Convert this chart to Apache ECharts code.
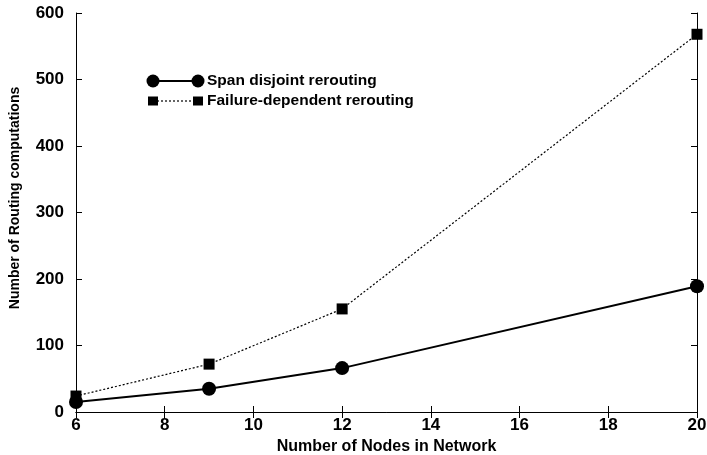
<!DOCTYPE html>
<html><head><meta charset="utf-8">
<script src="https://cdn.jsdelivr.net/npm/echarts@6/dist/echarts.min.js"></script>
<style>html,body{margin:0;padding:0;background:#fff}#c{width:707px;height:455px}</style>
</head><body><div id="c"></div>
<script>
const nodes = [6, 9, 12, 20];
const spanDisjoint = [15, 35, 66, 189];
const failureDependent = [24, 72, 155, 568];
const seriesNames = ['Span disjoint rerouting', 'Failure-dependent rerouting'];
const xTitle = 'Number of Nodes in Network';
const yTitle = 'Number of Routing computations';

const FONT = '"Liberation Sans", Arial, sans-serif';
const chart = echarts.init(document.getElementById('c'));
const axisCommon = {
  axisLine: {show: true, lineStyle: {color: '#000', width: 1}},
  axisTick: {show: true, inside: true, length: 6, lineStyle: {color: '#000'}},
  splitLine: {show: false}
};
chart.setOption({
  animation: false,
  backgroundColor: '#fff',
  grid: {left: 76, right: 10, top: 13, bottom: 43, containLabel: false, outerBoundsMode: 'none'},
  xAxis: [
    Object.assign({type: 'value', min: 6, max: 20, interval: 2, position: 'bottom',
      name: xTitle, nameLocation: 'middle', nameGap: 27,
      nameTextStyle: {fontFamily: FONT, fontWeight: 'bold', fontSize: 16, color: '#000'},
      axisLabel: {fontFamily: FONT, fontWeight: 'bold', fontSize: 17, color: '#000', margin: 5}}, axisCommon),
    Object.assign({type: 'value', min: 6, max: 20, interval: 2, position: 'top',
      axisLabel: {show: false}}, axisCommon)
  ],
  yAxis: [
    Object.assign({type: 'value', min: 0, max: 600, interval: 100, position: 'left',
      axisLabel: {fontFamily: FONT, fontWeight: 'bold', fontSize: 17, color: '#000', margin: 12}}, axisCommon),
    Object.assign({type: 'value', min: 0, max: 600, interval: 100, position: 'right',
      axisLabel: {show: false}}, axisCommon)
  ],
  series: [
    {name: seriesNames[0], type: 'line', data: nodes.map((x, i) => [x, spanDisjoint[i]]),
      symbol: 'circle', symbolSize: 14, lineStyle: {color: '#000', width: 2},
      itemStyle: {color: '#000'}, z: 3},
    {name: seriesNames[1], type: 'line', data: nodes.map((x, i) => [x, failureDependent[i]]),
      symbol: 'rect', symbolSize: 11, lineStyle: {color: '#000', width: 1.2, type: [2, 2]},
      itemStyle: {color: '#000'}, z: 2}
  ],
  graphic: [
    {type: 'text', x: 15, y: 198, rotation: Math.PI / 2,
      style: {text: yTitle, font: 'bold 14px ' + FONT, fill: '#000', textAlign: 'center', textVerticalAlign: 'middle'}},
    {type: 'line', shape: {x1: 153, y1: 81, x2: 198, y2: 81}, style: {stroke: '#000', lineWidth: 2}},
    {type: 'circle', shape: {cx: 153, cy: 81, r: 6.5}, style: {fill: '#000'}},
    {type: 'circle', shape: {cx: 198, cy: 81, r: 6.5}, style: {fill: '#000'}},
    {type: 'text', x: 207, y: 81, style: {text: seriesNames[0], font: 'bold 15.5px ' + FONT, fill: '#000', textVerticalAlign: 'middle'}},
    {type: 'line', shape: {x1: 153, y1: 101, x2: 198, y2: 101}, style: {stroke: '#000', lineWidth: 1.2, lineDash: [2, 2]}},
    {type: 'rect', shape: {x: 148, y: 96.5, width: 10, height: 9}, style: {fill: '#000'}},
    {type: 'rect', shape: {x: 193, y: 96.5, width: 10, height: 9}, style: {fill: '#000'}},
    {type: 'text', x: 207, y: 101, style: {text: seriesNames[1], font: 'bold 15.5px ' + FONT, fill: '#000', textVerticalAlign: 'middle'}}
  ]
});
</script></body></html>
